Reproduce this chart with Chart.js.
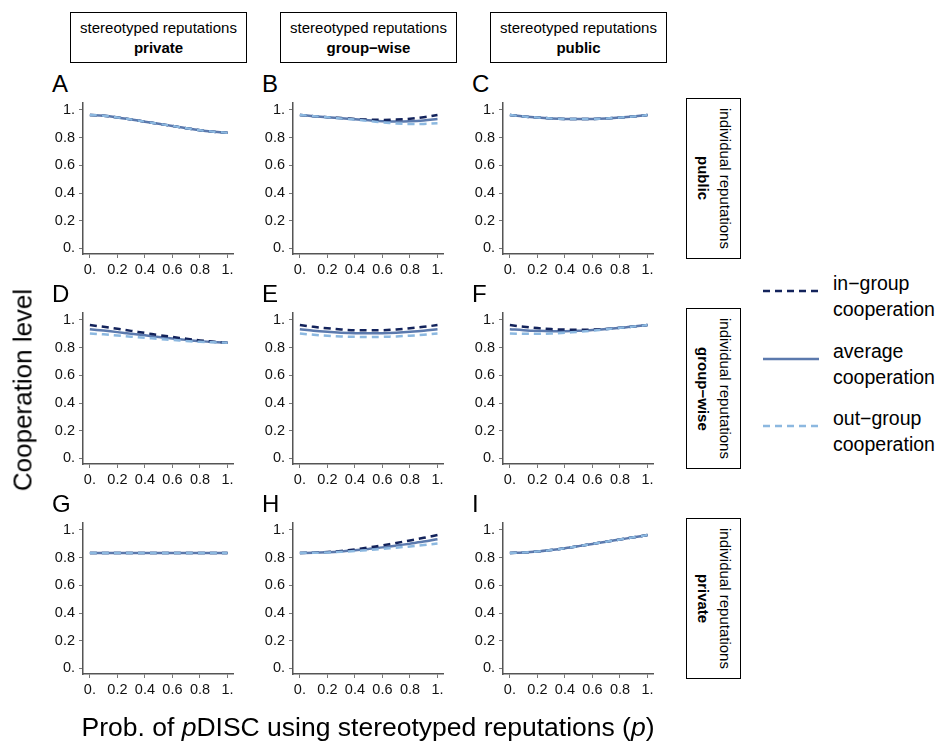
<!DOCTYPE html>
<html>
<head>
<meta charset="utf-8">
<script src="https://cdn.jsdelivr.net/npm/chart.js@4.4.1/dist/chart.umd.min.js"></script>
<style>
  body { margin: 0; background: #fff; font-family: "Liberation Sans", Arial, sans-serif; color: #000; }
  #page { position: relative; width: 942px; height: 752px; overflow: hidden; }
  .panel { position: absolute; width: 205px; height: 189px; }
  .letter { position: absolute; font-size: 24px; line-height: 24px; }
  .colhead { position: absolute; box-sizing: border-box; width: 177px; height: 51px; border: 1.5px solid #000;
             display: flex; flex-direction: column; justify-content: center; align-items: center;
             font-size: 15px; line-height: 20px; }
  .rowhead { position: absolute; box-sizing: border-box; left: 686px; width: 55px; height: 161px; border: 1.5px solid #000;
             display: flex; justify-content: center; align-items: center; }
  .rowhead .txt { writing-mode: vertical-rl; text-align: center; font-size: 15px; line-height: 22px; }
  .legline { position: absolute; left: 763px; }
  .legtxt { position: absolute; left: 833px; font-size: 19.5px; line-height: 26px; }
  #ytitle { position: absolute; left: 23px; top: 390px; transform: translate(-50%, -50%) rotate(-90deg);
            font-size: 26px; white-space: nowrap; }
  #xtitle { position: absolute; left: 368px; top: 727px; transform: translate(-50%, -50%);
            font-size: 26.5px; white-space: nowrap; }
</style>
</head>
<body>
<div id="page"></div>
<script>
// x grid of the curves
const pValues = [0, 0.1, 0.2, 0.3, 0.4, 0.5, 0.6, 0.7, 0.8, 0.9, 1];

// tick labels (Mathematica style)
const xTickValues = [0, 0.2, 0.4, 0.6, 0.8, 1];
const xTickLabels = ['0.', '0.2', '0.4', '0.6', '0.8', '1.'];
const yTickValues = [0, 0.2, 0.4, 0.6, 0.8, 1];
const yTickLabels = ['0.', '0.2', '0.4', '0.6', '0.8', '1.'];

const panelLetters = ['A', 'B', 'C', 'D', 'E', 'F', 'G', 'H', 'I'];
const stereotypedLabels = ['private', 'group\u2212wise', 'public'];
const individualLabels = ['public', 'group\u2212wise', 'private'];
const seriesNames = ['in\u2212group', 'average', 'out\u2212group'];

// row 1: individual reputations public
const inGroupA = [0.964, 0.958, 0.946, 0.931, 0.915, 0.900, 0.884, 0.868, 0.854, 0.842, 0.835];
const averageA = [0.964, 0.958, 0.946, 0.931, 0.915, 0.900, 0.884, 0.868, 0.854, 0.842, 0.835];
const outGroupA = [0.964, 0.958, 0.946, 0.931, 0.915, 0.900, 0.884, 0.868, 0.854, 0.842, 0.835];

const inGroupB = [0.963, 0.955, 0.948, 0.941, 0.934, 0.930, 0.928, 0.930, 0.936, 0.947, 0.963];
const averageB = [0.963, 0.955, 0.948, 0.940, 0.932, 0.925, 0.919, 0.916, 0.918, 0.924, 0.934];
const outGroupB = [0.963, 0.955, 0.947, 0.939, 0.930, 0.920, 0.910, 0.902, 0.898, 0.899, 0.904];

const inGroupC = [0.963, 0.953, 0.945, 0.939, 0.935, 0.934, 0.935, 0.939, 0.945, 0.953, 0.963];
const averageC = [0.963, 0.953, 0.945, 0.939, 0.935, 0.934, 0.935, 0.939, 0.945, 0.953, 0.963];
const outGroupC = [0.963, 0.953, 0.945, 0.939, 0.935, 0.934, 0.935, 0.939, 0.945, 0.953, 0.963];

// row 2: individual reputations group-wise
const inGroupD = [0.963, 0.950, 0.936, 0.921, 0.906, 0.891, 0.877, 0.864, 0.852, 0.842, 0.835];
const averageD = [0.933, 0.923, 0.912, 0.900, 0.889, 0.877, 0.866, 0.856, 0.847, 0.840, 0.835];
const outGroupD = [0.902, 0.896, 0.888, 0.879, 0.871, 0.863, 0.855, 0.848, 0.842, 0.838, 0.835];

const inGroupE = [0.963, 0.950, 0.940, 0.931, 0.926, 0.925, 0.926, 0.931, 0.940, 0.950, 0.963];
const averageE = [0.933, 0.922, 0.914, 0.908, 0.904, 0.903, 0.904, 0.908, 0.914, 0.922, 0.933];
const outGroupE = [0.902, 0.893, 0.886, 0.881, 0.878, 0.877, 0.878, 0.881, 0.886, 0.893, 0.902];

const inGroupF = [0.963, 0.951, 0.941, 0.934, 0.930, 0.929, 0.930, 0.935, 0.943, 0.952, 0.963];
const averageF = [0.933, 0.926, 0.921, 0.918, 0.918, 0.921, 0.927, 0.934, 0.943, 0.952, 0.963];
const outGroupF = [0.902, 0.900, 0.900, 0.902, 0.907, 0.914, 0.923, 0.933, 0.943, 0.952, 0.963];

// row 3: individual reputations private
const inGroupG = [0.834, 0.834, 0.834, 0.834, 0.834, 0.834, 0.834, 0.834, 0.834, 0.834, 0.834];
const averageG = [0.834, 0.834, 0.834, 0.834, 0.834, 0.834, 0.834, 0.834, 0.834, 0.834, 0.834];
const outGroupG = [0.834, 0.834, 0.834, 0.834, 0.834, 0.834, 0.834, 0.834, 0.834, 0.834, 0.834];

const inGroupH = [0.834, 0.836, 0.840, 0.848, 0.859, 0.873, 0.889, 0.906, 0.924, 0.943, 0.963];
const averageH = [0.834, 0.835, 0.839, 0.845, 0.853, 0.863, 0.874, 0.887, 0.901, 0.916, 0.933];
const outGroupH = [0.834, 0.835, 0.837, 0.842, 0.848, 0.855, 0.863, 0.872, 0.881, 0.891, 0.902];

const inGroupI = [0.834, 0.837, 0.844, 0.855, 0.868, 0.883, 0.899, 0.915, 0.931, 0.947, 0.963];
const averageI = [0.834, 0.837, 0.844, 0.855, 0.868, 0.883, 0.899, 0.915, 0.931, 0.947, 0.963];
const outGroupI = [0.834, 0.837, 0.844, 0.855, 0.868, 0.883, 0.899, 0.915, 0.931, 0.947, 0.963];

const panelSeries = [
  [inGroupA, averageA, outGroupA], [inGroupB, averageB, outGroupB], [inGroupC, averageC, outGroupC],
  [inGroupD, averageD, outGroupD], [inGroupE, averageE, outGroupE], [inGroupF, averageF, outGroupF],
  [inGroupG, averageG, outGroupG], [inGroupH, averageH, outGroupH], [inGroupI, averageI, outGroupI]
];

const IN_COLOR = '#13235b';
const AVG_COLOR = '#5b79ad';
const OUT_COLOR = '#8cb8e0';

Chart.defaults.font.family = '"Liberation Sans", Arial, sans-serif';

const page = document.getElementById('page');

function addDiv(cls, html, style) {
  const d = document.createElement('div');
  d.className = cls;
  d.innerHTML = html;
  Object.assign(d.style, style || {});
  page.appendChild(d);
  return d;
}

// column headers
stereotypedLabels.forEach((lab, c) => {
  addDiv('colhead', 'stereotyped reputations<br><b>' + lab + '</b>', { left: (70 + 210 * c) + 'px', top: '12px' });
});

// row headers
individualLabels.forEach((lab, r) => {
  addDiv('rowhead', '<div class="txt">individual reputations<br><b>' + lab + '</b></div>', { top: (98 + 210 * r) + 'px' });
});

function toPoints(arr) {
  return arr.map((v, i) => ({ x: pValues[i], y: v }));
}

function makePanel(idx) {
  const c = idx % 3, r = Math.floor(idx / 3);
  addDiv('letter', panelLetters[idx], { left: (52 + 210 * c) + 'px', top: (72 + 210 * r) + 'px' });

  const box = addDiv('panel', '', { left: (38 + 210 * c) + 'px', top: (95 + 210 * r) + 'px' });
  const cv = document.createElement('canvas');
  box.appendChild(cv);

  const [inG, avg, outG] = panelSeries[idx];

  new Chart(cv, {
    type: 'line',
    data: {
      datasets: [
        {
          label: seriesNames[2], data: toPoints(outG), borderColor: OUT_COLOR, borderWidth: 2.5,
          borderDash: [7, 5], order: 0
        },
        {
          label: seriesNames[0], data: toPoints(inG), borderColor: IN_COLOR, borderWidth: 2.5,
          borderDash: [7, 5], order: 1
        },
        {
          label: seriesNames[1], data: toPoints(avg), borderColor: AVG_COLOR, borderWidth: 2.5, order: 2
        }
      ]
    },
    options: {
      responsive: true,
      maintainAspectRatio: false,
      animation: false,
      events: [],
      layout: { padding: { top: 8, right: 10, left: 0, bottom: 0 } },
      elements: {
        point: { radius: 0 },
        line: { tension: 0.35, fill: false, borderCapStyle: 'butt' }
      },
      plugins: { legend: { display: false }, tooltip: { enabled: false } },
      scales: {
        x: {
          type: 'linear', min: -0.05, max: 1.04,
          afterBuildTicks: s => { s.ticks = xTickValues.map(v => ({ value: v })); },
          afterFit: s => { s.height = 30; s.paddingLeft = 0; s.paddingRight = 0; },
          grid: { display: true, drawOnChartArea: false, drawTicks: true, tickLength: 4, color: '#777', tickWidth: 1 },
          border: { display: true, color: '#555', width: 1.5 },
          ticks: {
            callback: (v, i) => xTickLabels[i], color: '#111', font: { size: 14.5 },
            padding: 3, maxRotation: 0, autoSkip: false
          }
        },
        y: {
          type: 'linear', min: -0.04, max: 1.05,
          afterBuildTicks: s => { s.ticks = yTickValues.map(v => ({ value: v })); },
          afterFit: s => { s.width = 45; s.paddingTop = 0; s.paddingBottom = 0; },
          grid: { display: true, drawOnChartArea: false, drawTicks: true, tickLength: 4, color: '#777', tickWidth: 1 },
          border: { display: true, color: '#555', width: 1.5 },
          ticks: {
            callback: (v, i) => yTickLabels[i], color: '#111', font: { size: 14.5 },
            padding: 4, autoSkip: false
          }
        }
      }
    }
  });
}

for (let i = 0; i < 9; i++) makePanel(i);

// legend
const legendItems = [
  { y: 283, color: IN_COLOR, dash: '7 5', text: 'in\u2212group<br>cooperation' },
  { y: 351, color: AVG_COLOR, dash: '', text: 'average<br>cooperation' },
  { y: 418, color: OUT_COLOR, dash: '7 5', text: 'out\u2212group<br>cooperation' }
];
legendItems.forEach(it => {
  addDiv('legline',
    '<svg width="56" height="6"><line x1="0" y1="3" x2="56" y2="3" stroke="' + it.color +
    '" stroke-width="2.5"' + (it.dash ? ' stroke-dasharray="' + it.dash + '"' : '') + '/></svg>',
    { top: (it.y - 3) + 'px' });
  addDiv('legtxt', it.text, { top: (it.y - 13) + 'px' });
});

// axis titles
addDiv('', 'Cooperation level', {}).id = 'ytitle';
addDiv('', 'Prob. of <i>p</i>DISC using stereotyped reputations (<i>p</i>)', {}).id = 'xtitle';
</script>
</body>
</html>
